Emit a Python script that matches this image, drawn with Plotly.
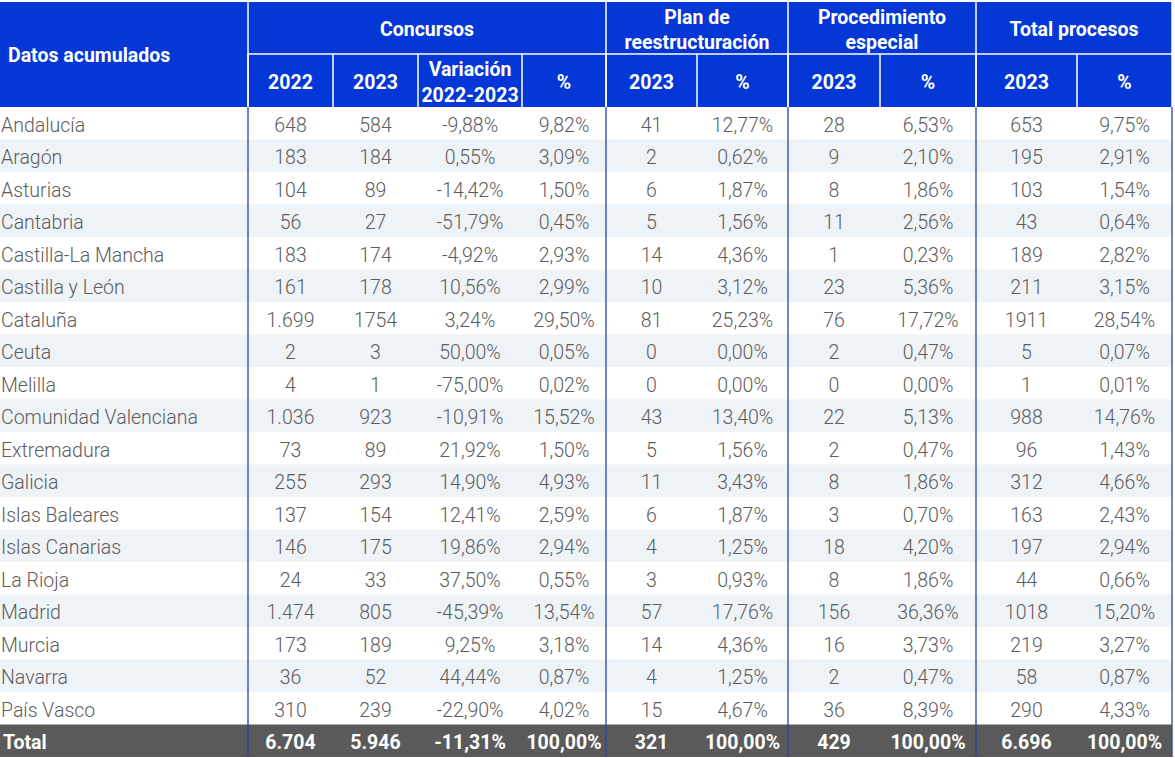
import plotly.graph_objects as go

# datos de la tabla (texto tal cual aparece)
regions = ["Andalucía", "Aragón", "Asturias", "Cantabria", "Castilla-La Mancha",
           "Castilla y León", "Cataluña", "Ceuta", "Melilla", "Comunidad Valenciana",
           "Extremadura", "Galicia", "Islas Baleares", "Islas Canarias", "La Rioja",
           "Madrid", "Murcia", "Navarra", "País Vasco"]
conc_2022 = ["648", "183", "104", "56", "183", "161", "1.699", "2", "4", "1.036",
             "73", "255", "137", "146", "24", "1.474", "173", "36", "310"]
conc_2023 = ["584", "184", "89", "27", "174", "178", "1754", "3", "1", "923",
             "89", "293", "154", "175", "33", "805", "189", "52", "239"]
conc_var = ["-9,88%", "0,55%", "-14,42%", "-51,79%", "-4,92%", "10,56%", "3,24%",
            "50,00%", "-75,00%", "-10,91%", "21,92%", "14,90%", "12,41%", "19,86%",
            "37,50%", "-45,39%", "9,25%", "44,44%", "-22,90%"]
conc_pct = ["9,82%", "3,09%", "1,50%", "0,45%", "2,93%", "2,99%", "29,50%", "0,05%",
            "0,02%", "15,52%", "1,50%", "4,93%", "2,59%", "2,94%", "0,55%", "13,54%",
            "3,18%", "0,87%", "4,02%"]
plan_2023 = ["41", "2", "6", "5", "14", "10", "81", "0", "0", "43", "5", "11", "6",
             "4", "3", "57", "14", "4", "15"]
plan_pct = ["12,77%", "0,62%", "1,87%", "1,56%", "4,36%", "3,12%", "25,23%", "0,00%",
            "0,00%", "13,40%", "1,56%", "3,43%", "1,87%", "1,25%", "0,93%", "17,76%",
            "4,36%", "1,25%", "4,67%"]
proc_2023 = ["28", "9", "8", "11", "1", "23", "76", "2", "0", "22", "2", "8", "3",
             "18", "8", "156", "16", "2", "36"]
proc_pct = ["6,53%", "2,10%", "1,86%", "2,56%", "0,23%", "5,36%", "17,72%", "0,47%",
            "0,00%", "5,13%", "0,47%", "1,86%", "0,70%", "4,20%", "1,86%", "36,36%",
            "3,73%", "0,47%", "8,39%"]
total_2023 = ["653", "195", "103", "43", "189", "211", "1911", "5", "1", "988", "96",
              "312", "163", "197", "44", "1018", "219", "58", "290"]
total_pct = ["9,75%", "2,91%", "1,54%", "0,64%", "2,82%", "3,15%", "28,54%", "0,07%",
             "0,01%", "14,76%", "1,43%", "4,66%", "2,43%", "2,94%", "0,66%", "15,20%",
             "3,27%", "0,87%", "4,33%"]
total_row = ["Total", "6.704", "5.946", "-11,31%", "100,00%", "321", "100,00%",
             "429", "100,00%", "6.696", "100,00%"]

first_head = "Datos acumulados"
groups = ["Concursos", "Plan de<br>reestructuración", "Procedimiento<br>especial",
          "Total procesos"]
subheads = ["2022", "2023", "Variación<br>2022-2023", "%", "2023", "%", "2023", "%",
            "2023", "%"]

BLUE = "#0536d6"
STRIPE = "#eef3f8"
DARK = "#5a5a5a"
TXT = "#5c5c5c"
LINE = "#2445a3"

W, H = 1175, 758
colw = [248, 85, 85, 104, 84, 91, 91, 92, 96, 101, 95]
group_span = [4, 2, 2, 2]          # columnas por grupo
y_top, y_sub, y_body, row_h = 2, 54, 107, 32.5
dy = 3.5                           # ajuste vertical del texto

columns = [regions, conc_2022, conc_2023, conc_var, conc_pct, plan_2023, plan_pct,
           proc_2023, proc_pct, total_2023, total_pct]
n = len(regions)

edges = [0]
for w in colw:
    edges.append(edges[-1] + w)
centers = [(a + b) / 2 for a, b in zip(edges[:-1], edges[1:])]
row_y = [y_body + (i + 0.5) * row_h + dy for i in range(n)]
y_total0 = y_body + n * row_h
y_end = y_total0 + row_h
y_total = (y_total0 + y_end) / 2 + dy

group_edges = [edges[1]]
k = 1
for s in group_span:
    k += s
    group_edges.append(edges[k])

shapes = []
# fondos de cabecera
shapes.append(dict(type="rect", x0=0, x1=edges[-1], y0=y_top, y1=y_body,
                   fillcolor=BLUE, line_width=0, layer="below"))
# bandas alternas
for i in range(n):
    if i % 2 == 1:
        shapes.append(dict(type="rect", x0=0, x1=edges[-1],
                           y0=y_body + i * row_h, y1=y_body + (i + 1) * row_h,
                           fillcolor=STRIPE, line_width=0, layer="below"))
# fila total
shapes.append(dict(type="rect", x0=0, x1=edges[-1], y0=y_total0, y1=y_end,
                   fillcolor=DARK, line_width=0, layer="below"))
# separadores blancos de cabecera
shapes.append(dict(type="line", x0=edges[1], x1=edges[-1], y0=y_sub, y1=y_sub,
                   line=dict(color="white", width=1.5)))
for x in group_edges:
    shapes.append(dict(type="line", x0=x, x1=x, y0=y_top, y1=y_body,
                       line=dict(color="white", width=1.5)))
for x in edges[1:-1]:
    shapes.append(dict(type="line", x0=x, x1=x, y0=y_sub, y1=y_body,
                       line=dict(color="white", width=1.5)))
# lineas azules del cuerpo
for x in group_edges:
    shapes.append(dict(type="line", x0=x, x1=x, y0=y_body, y1=y_end,
                       line=dict(color=LINE, width=1.3)))

fig = go.Figure()
body_font = dict(family="Roboto", size=19.5, color=TXT, weight=300)
head_font = dict(family="Roboto", size=19.5, color="white", weight="bold")

# cabecera
fig.add_trace(go.Scatter(x=[8], y=[y_sub + dy], text=[first_head], mode="text",
                         textposition="middle right", textfont=head_font))
g_centers = [(a + b) / 2 for a, b in zip(group_edges[:-1], group_edges[1:])]
fig.add_trace(go.Scatter(x=g_centers, y=[(y_top + y_sub) / 2 + dy] * len(groups),
                         text=groups, mode="text", textposition="middle center",
                         textfont=head_font))
fig.add_trace(go.Scatter(x=centers[1:], y=[(y_sub + y_body) / 2 + dy] * len(subheads),
                         text=subheads, mode="text", textposition="middle center",
                         textfont=head_font))

# cuerpo
fig.add_trace(go.Scatter(x=[1] * n, y=row_y, text=regions, mode="text",
                         textposition="middle right", textfont=body_font))
for c, col in zip(centers[1:], columns[1:]):
    fig.add_trace(go.Scatter(x=[c] * n, y=row_y, text=col, mode="text",
                             textposition="middle center", textfont=body_font))

# total
fig.add_trace(go.Scatter(x=[3], y=[y_total], text=[total_row[0]], mode="text",
                         textposition="middle right", textfont=head_font))
fig.add_trace(go.Scatter(x=centers[1:], y=[y_total] * (len(total_row) - 1),
                         text=total_row[1:], mode="text",
                         textposition="middle center", textfont=head_font))

fig.update_traces(hoverinfo="skip", cliponaxis=False)
fig.update_layout(width=W, height=H, margin=dict(l=0, r=0, t=0, b=0),
                  paper_bgcolor="white", plot_bgcolor="white", showlegend=False,
                  shapes=shapes,
                  xaxis=dict(range=[0, W], visible=False, fixedrange=True),
                  yaxis=dict(range=[H, 0], visible=False, fixedrange=True))
fig.write_html("out.html", config={"displayModeBar": False},
               post_script="document.body.style.margin='0px';")
